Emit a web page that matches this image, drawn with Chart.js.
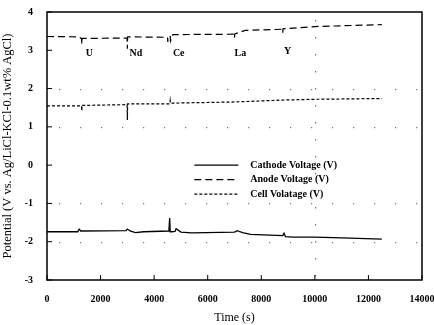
<!DOCTYPE html>
<html><head><meta charset="utf-8">
<script src="https://cdn.jsdelivr.net/npm/chart.js@4.4.1/dist/chart.umd.min.js"></script>
<style>html,body{margin:0;padding:0;background:#fff}#wrap{width:434px;height:325px}</style>
</head><body><div id="wrap"><canvas id="c" width="434" height="325"></canvas></div>
<script>
const cathodeTime = [0, 1150, 1200, 1260, 2950, 3000, 3100, 3300, 3600, 4550, 4580, 4600, 4640, 4780, 4820, 5000, 5400, 7000, 7100, 7300, 7600, 8800, 8850, 8900, 9200, 10000, 11000, 12500];
const cathodeV    = [-1.74, -1.74, -1.67, -1.72, -1.71, -1.67, -1.72, -1.76, -1.74, -1.72, -1.38, -1.74, -1.74, -1.73, -1.66, -1.75, -1.77, -1.75, -1.71, -1.76, -1.81, -1.84, -1.78, -1.87, -1.88, -1.88, -1.90, -1.93];

const anodeTime = [0, 1200, 1290, 1300, 1310, 2990, 3000, 3010, 4500, 4510, 4520, 4600, 4610, 4700, 6990, 7000, 7010, 7400, 8790, 8800, 8810, 10000, 12500];
const anodeV    = [3.36, 3.35, 3.30, 3.16, 3.31, 3.32, 3.04, 3.35, 3.34, 3.22, 3.35, 3.36, 3.24, 3.41, 3.42, 3.33, 3.43, 3.52, 3.55, 3.46, 3.56, 3.62, 3.67];

const cellTime = [0, 1290, 1300, 1310, 2990, 3000, 3010, 4590, 4600, 4610, 4700, 7000, 8800, 10000, 12500];
const cellV    = [1.55, 1.55, 1.42, 1.56, 1.58, 1.18, 1.60, 1.60, 1.68, 1.62, 1.62, 1.65, 1.70, 1.72, 1.74];

const seriesLabels = ['Cathode Voltage (V)', 'Anode Voltage (V)', 'Cell Volatage (V)'];
const elementNames = ['U', 'Nd', 'Ce', 'La', 'Y'];
const elementTime  = [1450, 3080, 4700, 7000, 8850];
const elementV     = [2.93, 2.93, 2.93, 2.93, 2.98];
const xTicks = [0, 2000, 4000, 6000, 8000, 10000, 12000, 14000];
const yTicks = [-3, -2, -1, 0, 1, 2, 3, 4];

const pts = (t, v) => t.map((x, i) => ({x, y: v[i]}));
const SERIF = '"Liberation Serif", "DejaVu Serif", serif';

const overlay = {
  id: 'overlay',
  afterDatasetsDraw(chart) {
    const {ctx, chartArea: a, scales: {x, y}} = chart;
    ctx.save();
    // sparse dotted grid (scan-like)
    ctx.fillStyle = '#777';
    [2, 1, -1, -2].forEach(v => {
      const py = Math.round(y.getPixelForValue(v));
      for (let px = a.left + 12; px < a.right - 4; px += 21) ctx.fillRect(px, py, 1.2, 1.2);
    });
    const gx = Math.round(x.getPixelForValue(10000));
    for (let py = a.top + 8; py < a.bottom - 4; py += 17) ctx.fillRect(gx, py, 1.2, 1.5);
    // frame
    ctx.strokeStyle = '#000'; ctx.lineWidth = 1.5;
    ctx.strokeRect(a.left, a.top, a.right - a.left, a.bottom - a.top);
    // inward ticks
    ctx.lineWidth = 1;
    ctx.beginPath();
    xTicks.forEach(t => { const px = x.getPixelForValue(t); ctx.moveTo(px, a.bottom); ctx.lineTo(px, a.bottom - 5); });
    yTicks.forEach(t => { const py = y.getPixelForValue(t); ctx.moveTo(a.left, py); ctx.lineTo(a.left + 5, py); });
    ctx.stroke();
    // element labels
    ctx.fillStyle = '#000';
    ctx.font = 'bold 10px ' + SERIF;
    ctx.textBaseline = 'middle'; ctx.textAlign = 'left';
    elementNames.forEach((n, i) => ctx.fillText(n, x.getPixelForValue(elementTime[i]), y.getPixelForValue(elementV[i])));
    // legend
    const lx = x.getPixelForValue(5500), ly = y.getPixelForValue(0);
    ctx.font = 'bold 10px ' + SERIF;
    chart.data.datasets.forEach((ds, i) => {
      const yy = ly + i * 14.5;
      ctx.strokeStyle = '#000'; ctx.lineWidth = 1.2;
      ctx.setLineDash(ds.borderDash || []);
      ctx.beginPath(); ctx.moveTo(lx, yy); ctx.lineTo(lx + 44, yy); ctx.stroke();
      ctx.setLineDash([]);
      ctx.fillText(ds.label, lx + 56, yy);
    });
    ctx.restore();
  }
};

new Chart(document.getElementById('c'), {
  type: 'line',
  data: {
    datasets: [
      {label: seriesLabels[0], data: pts(cathodeTime, cathodeV), borderColor: '#000', borderWidth: 1.3, pointRadius: 0, tension: 0},
      {label: seriesLabels[1], data: pts(anodeTime, anodeV), borderColor: '#000', borderWidth: 1.2, borderDash: [7, 4], pointRadius: 0, tension: 0},
      {label: seriesLabels[2], data: pts(cellTime, cellV), borderColor: '#000', borderWidth: 1.2, borderDash: [3, 2], pointRadius: 0, tension: 0}
    ]
  },
  options: {
    responsive: false, animation: false,
    layout: {padding: {left: 0, right: 12, top: 7, bottom: 0}},
    plugins: {legend: {display: false}, tooltip: {enabled: false}},
    scales: {
      x: {
        type: 'linear', min: 0, max: 14000,
        afterBuildTicks: s => { s.ticks = xTicks.map(v => ({value: v})); },
        afterFit: s => { s.height = 45; s.paddingRight = 0; s.paddingLeft = 0; },
        border: {display: false},
        grid: {display: false},
        ticks: {color: '#000', padding: 5, maxRotation: 0, autoSkip: false, callback: v => String(v), font: {family: SERIF, size: 10, weight: 'bold'}},
        title: {display: true, text: 'Time (s)', color: '#000', padding: {top: 8, bottom: 0}, font: {family: SERIF, size: 12}}
      },
      y: {
        min: -3, max: 4,
        afterBuildTicks: s => { s.ticks = yTicks.map(v => ({value: v})); },
        afterFit: s => { s.width = 47; },
        border: {display: false},
        grid: {display: false},
        ticks: {color: '#000', padding: 6, callback: v => String(v), font: {family: SERIF, size: 10, weight: 'bold'}},
        title: {display: true, text: 'Potential (V vs. Ag/LiCl-KCl-0.1wt% AgCl)', color: '#000', padding: {top: 0, bottom: 4}, font: {family: SERIF, size: 12.5}}
      }
    }
  },
  plugins: [overlay]
});
</script></body></html>
